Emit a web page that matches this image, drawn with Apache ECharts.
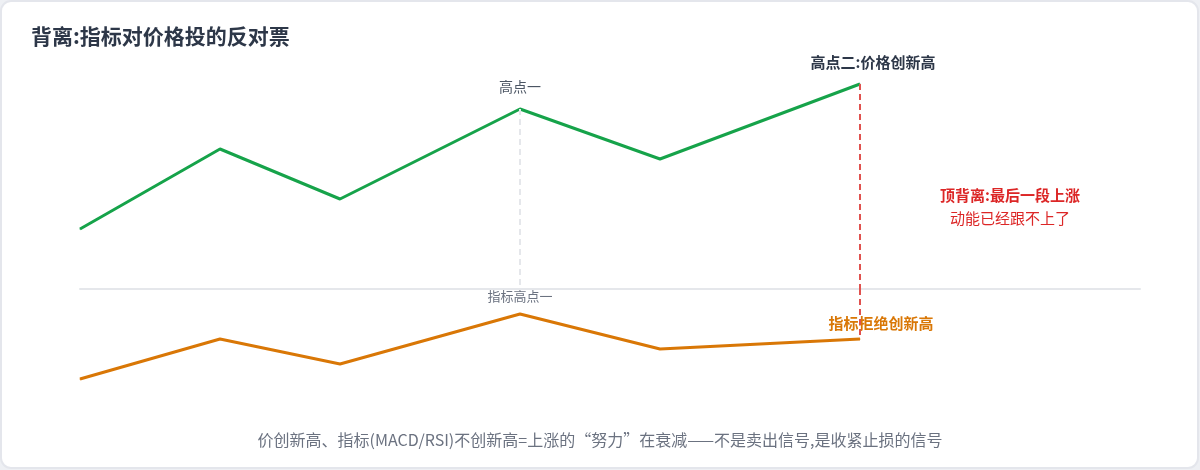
<!DOCTYPE html>
<html>
<head>
<meta charset="utf-8">
<script src="https://cdn.jsdelivr.net/npm/echarts@6/dist/echarts.min.js"></script>
<style>
  html, body { margin: 0; padding: 0; background: #eef0f4; }
  #chart { width: 1200px; height: 470px; }
</style>
</head>
<body>
<div id="chart"></div>
<script>
// 数据
const xPos = [0, 14, 26, 44, 58, 78];
const price = [100, 116, 106, 124, 114, 129];
const indicator = [20, 36, 26, 46, 32, 36];
const peakOne = 3;   // 高点一
const peakTwo = 5;   // 高点二
const titleText = '背离:指标对价格投的反对票';
const noteLines = ['顶背离:最后一段上涨', '动能已经跟不上了'];
const caption = '价创新高、指标(MACD/RSI)不创新高=上涨的“努力”在衰减——不是卖出信号,是收紧止损的信号';

const FONT = "'Noto Sans CJK SC', 'Noto Sans', sans-serif";

var chart = echarts.init(document.getElementById('chart'));

var priceData = xPos.map(function (x, i) {
  var item = { value: [x, price[i]] };
  if (i === peakOne) {
    item.label = { show: true, position: 'top', distance: 15, formatter: '高点一',
      color: '#4b5563', fontSize: 14 };
  }
  if (i === peakTwo) {
    item.label = { show: true, position: 'top', distance: 14, offset: [13, 0],
      formatter: '高点二:价格创新高', color: '#2d3748', fontSize: 15, fontWeight: 'bold' };
  }
  return item;
});

var indData = xPos.map(function (x, i) {
  var item = { value: [x, indicator[i]] };
  if (i === peakOne) {
    item.label = { show: true, position: 'top', distance: 11, formatter: '指标高点一',
      color: '#6b7280', fontSize: 13 };
  }
  if (i === peakTwo) {
    item.label = { show: true, position: 'top', distance: 8, offset: [21, 0],
      formatter: '指标拒绝创新高', color: '#d97706', fontSize: 15, fontWeight: 'bold',
      textBorderColor: '#fff', textBorderWidth: 2 };
  }
  return item;
});

var option = {
  animation: false,
  textStyle: { fontFamily: FONT },
  title: {
    text: titleText,
    left: 31, top: 26, padding: 0,
    textStyle: { fontSize: 21, fontWeight: 'bold', color: '#2d3748', fontFamily: FONT }
  },
  graphic: [
    {
      type: 'rect', z: -10, silent: true,
      shape: { x: 1, y: 1, width: 1197, height: 467, r: 10 },
      style: { fill: '#fff', stroke: '#e4e6ec', lineWidth: 2 }
    },
    {
      type: 'text', x: 1010, y: 195,
      style: { text: noteLines[0], fill: '#dc2626', font: 'bold 15px ' + FONT,
        textAlign: 'center', textVerticalAlign: 'middle' }
    },
    {
      type: 'text', x: 1010, y: 218,
      style: { text: noteLines[1], fill: '#dc2626', font: '15px ' + FONT,
        textAlign: 'center', textVerticalAlign: 'middle' }
    },
    {
      type: 'text', x: 600, y: 440,
      style: { text: caption, fill: '#6b7280', font: '16px ' + FONT,
        textAlign: 'center', textVerticalAlign: 'middle' }
    }
  ],
  grid: [
    { left: 80, right: 60, top: 59, height: 230 },
    { left: 80, right: 60, top: 289, height: 115 }
  ],
  xAxis: [
    { type: 'value', gridIndex: 0, min: 0, max: 106,
      axisLine: { show: true, lineStyle: { color: '#e5e7eb', width: 2 } },
      axisTick: { show: false }, axisLabel: { show: false }, splitLine: { show: false } },
    { type: 'value', gridIndex: 1, min: 0, max: 106, show: false }
  ],
  yAxis: [
    { type: 'value', gridIndex: 0, min: 88, max: 134, show: false },
    { type: 'value', gridIndex: 1, min: 10, max: 56, show: false }
  ],
  series: [
    {
      type: 'line', xAxisIndex: 0, yAxisIndex: 0,
      data: priceData,
      symbol: 'circle', symbolSize: 1, showSymbol: true,
      itemStyle: { color: '#16a34a' },
      lineStyle: { color: '#16a34a', width: 3 },
      z: 3,
      markLine: {
        silent: true, symbol: ['none', 'none'], label: { show: false },
        data: [
          [
            { coord: [xPos[peakOne], price[peakOne]], lineStyle: { color: '#e5e7eb', width: 2, type: [6, 4] } },
            { coord: [xPos[peakOne], 88] }
          ],
          [
            { coord: [xPos[peakTwo], price[peakTwo]], lineStyle: { color: '#e0524f', width: 2, type: [6, 4] } },
            { coord: [xPos[peakTwo], 88] }
          ]
        ]
      }
    },
    {
      type: 'line', xAxisIndex: 1, yAxisIndex: 1,
      data: indData,
      symbol: 'circle', symbolSize: 1, showSymbol: true,
      itemStyle: { color: '#d97706' },
      lineStyle: { color: '#d97706', width: 3 },
      z: 3,
      markLine: {
        silent: true, symbol: ['none', 'none'], label: { show: false },
        data: [
          [
            { coord: [xPos[peakTwo], 56], lineStyle: { color: '#e0524f', width: 2, type: [6, 4] } },
            { coord: [xPos[peakTwo], indicator[peakTwo]] }
          ]
        ]
      }
    }
  ]
};

chart.setOption(option);
</script>
</body>
</html>
